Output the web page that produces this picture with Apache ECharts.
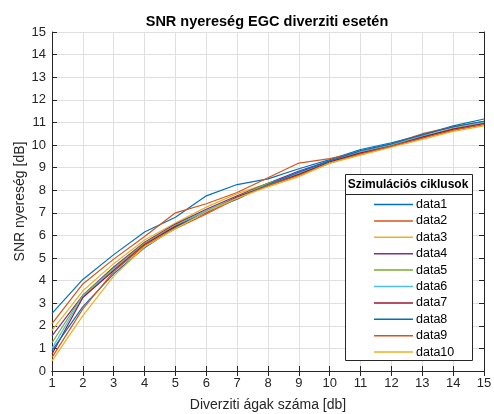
<!DOCTYPE html>
<html><head><meta charset="utf-8">
<script src="https://cdn.jsdelivr.net/npm/echarts@6/dist/echarts.min.js"></script>
<style>html,body{margin:0;padding:0;background:#fff}#c{width:494px;height:414px}</style>
</head><body><div id="c"></div>
<script>
const xValues = [1,2,3,4,5,6,7,8,9,10,11,12,13,14,15];
const seriesNames = ['data1','data2','data3','data4','data5','data6','data7','data8','data9','data10'];
const data1  = [2.55, 4.05, 5.15, 6.15, 6.8, 7.75, 8.25, 8.5, 8.95, 9.35, 9.8, 10.1, 10.45, 10.85, 11.15];
const data2  = [2.1, 3.85, 4.95, 5.95, 7.0, 7.4, 7.9, 8.55, 9.2, 9.4, 9.7, 10.05, 10.5, 10.8, 11.05];
const data3  = [1.8, 3.55, 4.75, 5.8, 6.55, 7.25, 7.85, 8.3, 8.75, 9.3, 9.65, 10.0, 10.35, 10.75, 11.0];
const data4  = [1.55, 3.35, 4.6, 5.7, 6.5, 7.15, 7.75, 8.3, 8.85, 9.3, 9.6, 9.95, 10.3, 10.7, 10.95];
const data5  = [1.25, 3.35, 4.55, 5.65, 6.45, 7.1, 7.7, 8.3, 8.7, 9.25, 9.6, 9.95, 10.35, 10.65, 10.95];
const data6  = [1.0, 3.3, 4.5, 5.6, 6.4, 7.1, 7.7, 8.25, 8.75, 9.25, 9.7, 10.0, 10.4, 10.7, 11.0];
const data7  = [0.75, 3.25, 4.45, 5.6, 6.4, 7.0, 7.7, 8.2, 8.7, 9.25, 9.65, 9.95, 10.35, 10.7, 10.95];
const data8  = [0.9, 2.85, 4.3, 5.45, 6.35, 7.05, 7.6, 8.25, 8.8, 9.3, 9.75, 10.05, 10.45, 10.8, 11.05];
const data9  = [0.6, 2.75, 4.4, 5.55, 6.3, 6.95, 7.65, 8.2, 8.65, 9.2, 9.6, 9.95, 10.3, 10.65, 10.9];
const data10 = [0.45, 2.45, 4.2, 5.5, 6.3, 7.05, 7.65, 8.15, 8.6, 9.2, 9.55, 9.9, 10.25, 10.6, 10.85];
const allData = [data1,data2,data3,data4,data5,data6,data7,data8,data9,data10];
const colors = ['#0072BD','#D95319','#EDB120','#7E2F8E','#77AC30','#4DBEEE','#A2142F','#0072BD','#D95319','#EDB120'];

const FONT = '"Liberation Sans", Arial, sans-serif';
const AX = '#262626';
const GRIDC = '#dfdfdf';

const chart = echarts.init(document.getElementById('c'), null, {renderer:'canvas'});
const baseX = {type:'value', min:1, max:15, interval:1};
const baseY = {type:'value', min:0, max:15, interval:1};
const option = {
  animation:false,
  backgroundColor:'#fff',
  color: colors,
  title:{text:'SNR nyereség EGC diverziti esetén', left:262, top:9, textAlign:'center',
    textStyle:{fontFamily:FONT, fontSize:14.5, fontWeight:'bold', color:'#000'}},
  grid:{left:52, right:10, top:32, bottom:43, containLabel:false, outerBoundsMode:'none'},
  xAxis:[
    Object.assign({}, baseX, {position:'bottom', name:'Diverziti ágak száma [db]', nameLocation:'middle', nameGap:27,
      nameTextStyle:{fontFamily:FONT, fontSize:14, color:AX},
      axisLine:{show:true, lineStyle:{color:AX, width:1}},
      axisTick:{show:true, inside:true, length:5, lineStyle:{color:AX}},
      axisLabel:{fontFamily:FONT, fontSize:13, color:AX, margin:6},
      splitLine:{show:true, lineStyle:{color:GRIDC, width:1}}}),
    Object.assign({}, baseX, {position:'top',
      axisLine:{show:true, lineStyle:{color:AX, width:1}},
      axisTick:{show:true, inside:true, length:5, lineStyle:{color:AX}},
      axisLabel:{show:false}, splitLine:{show:false}})
  ],
  yAxis:[
    Object.assign({}, baseY, {position:'left', name:'SNR nyereség [dB]', nameLocation:'middle', nameGap:25, nameMoveOverlap:false,
      nameTextStyle:{fontFamily:FONT, fontSize:14, color:AX},
      axisLine:{show:true, lineStyle:{color:AX, width:1}},
      axisTick:{show:true, inside:true, length:5, lineStyle:{color:AX}},
      axisLabel:{fontFamily:FONT, fontSize:13, color:AX, margin:6},
      splitLine:{show:true, lineStyle:{color:GRIDC, width:1}}}),
    Object.assign({}, baseY, {position:'right',
      axisLine:{show:true, lineStyle:{color:AX, width:1}},
      axisTick:{show:true, inside:true, length:5, lineStyle:{color:AX}},
      axisLabel:{show:false}, splitLine:{show:false}})
  ],
  legend:{
    orient:'vertical', left:369, top:193, z:20,
    icon:'rect', itemWidth:39, itemHeight:1.5, itemGap:3.4,
    textStyle:{fontFamily:FONT, fontSize:12.5, color:'#000', padding:[0,0,0,-2], lineHeight:13},
    data: seriesNames
  },
  graphic:[
    {type:'rect', z:15, shape:{x:345.5, y:174.5, width:127, height:186}, style:{fill:'#fff', stroke:'#262626', lineWidth:1}},
    {type:'line', z:16, shape:{x1:345.5, y1:194.5, x2:472.5, y2:194.5}, style:{stroke:'#262626', lineWidth:1}},
    {type:'text', z:16, x:408, y:184.5, style:{text:'Szimulációs ciklusok', font:'bold 12px '+FONT, fill:'#000', textAlign:'center', textVerticalAlign:'middle'}}
  ],
  series: seriesNames.map((n,i)=>({
    name:n, type:'line', xAxisIndex:0, yAxisIndex:0, symbol:'none', showSymbol:false,
    lineStyle:{width:1.2, color:colors[i]}, itemStyle:{color:colors[i]},
    data: xValues.map((x,j)=>[x, allData[i][j]])
  }))
};
chart.setOption(option);
</script></body></html>
